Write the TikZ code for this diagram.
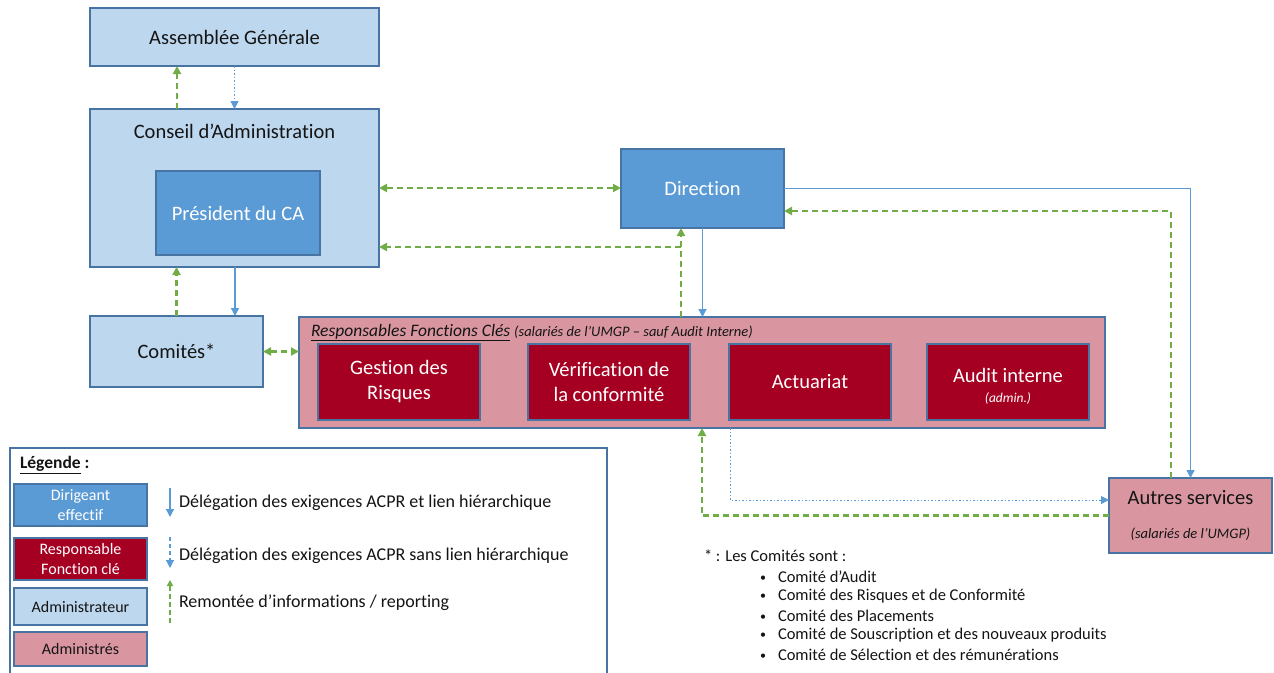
\documentclass[tikz,border=0pt]{standalone}
\usepackage{fontspec}
\setmainfont{Carlito}[Ligatures={NoCommon}]
\usetikzlibrary{arrows.meta}
\definecolor{lblue}{RGB}{189,215,238}
\definecolor{mblue}{RGB}{91,155,213}
\definecolor{bord}{RGB}{72,116,164}
\definecolor{dred}{RGB}{165,0,33}
\definecolor{pinkf}{RGB}{217,150,160}
\definecolor{grn}{RGB}{112,173,71}
\definecolor{txt}{RGB}{20,20,20}
\newcommand{\fsz}[2]{\fontsize{#1}{#2}\selectfont}
\newcommand{\bul}{\makebox[18pt][l]{\raisebox{1pt}{\fsz{12}{12}•}}}
\begin{document}
\begin{tikzpicture}[x=1pt,y=-1pt,
  every node/.style={inner sep=0pt, outer sep=0pt, text=txt},
  box/.style={draw=bord, line width=1.3pt, anchor=north west},
  admbox/.style={box, fill=lblue},
  dirbox/.style={box, fill=mblue, text=white},
  redbox/.style={box, fill=dred, text=white},
  pinkbox/.style={box, fill=pinkf},
  big/.style={font=\fsz{20.5}{25}, align=center},
  gline/.style={draw=grn, line width=2.2pt, dash pattern=on 6pt off 4pt},
  bline/.style={draw=mblue, line width=1.3pt},
  dline/.style={draw=mblue, line width=1pt, dash pattern=on 1.5pt off 2pt},
  tip/.style={-{Triangle[length=8pt,width=8pt]}},
  tips/.style={{Triangle[length=8pt,width=8pt]}-{Triangle[length=8pt,width=8pt]}},
  legtxt/.style={anchor=west, font=\fsz{18}{22}},
  foot/.style={anchor=west, font=\fsz{16.5}{20}}
]
\useasboundingbox (0,0) rectangle (1274,672);
\fill[white] (0,0) rectangle (1274,672);

% main boxes
\node[admbox, minimum width=289pt, minimum height=58pt, big] (ag) at (90,8) {Assemblée Générale};
\node[admbox, minimum width=289pt, minimum height=158pt] (ca) at (90,109) {};
\node[big] (catxt) at (234.5,131) {Conseil d’Administration};
\node[dirbox, minimum width=164pt, minimum height=84pt, big, text=white] (pres) at (156,171) {Président du CA};
\node[admbox, minimum width=173pt, minimum height=71pt, big] (com) at (90,316) {Comités*};
\node[dirbox, minimum width=163pt, minimum height=79pt, big, text=white] (dir) at (621,149) {Direction};

\node[pinkbox, minimum width=806pt, minimum height=111pt] (rfc) at (299,317) {};
\node[anchor=base west, font=\fsz{17.5}{20}\itshape] (rfctxt) at (311,336)
  {\underline{Responsables Fonctions Clés} {\fsz{14.5}{17}(salariés de l’UMGP – sauf Audit Interne)}};

\node[redbox, minimum width=162pt, minimum height=76pt, big, text=white] (gr) at (318,344) {Gestion des\\Risques};
\node[redbox, minimum width=162pt, minimum height=76pt, big, text=white] (vc) at (528,344) {Vérification de\\la conformité};
\node[redbox, minimum width=162pt, minimum height=76pt, big, text=white] (act) at (729,344) {Actuariat};
\node[redbox, minimum width=162pt, minimum height=76pt] (ai) at (927,344) {};
\node[big, text=white] (aitxt) at (1008,375) {Audit interne};
\node[font=\fsz{13.5}{16}\itshape, text=white] (aisub) at (1008,398) {(admin.)};

\node[pinkbox, minimum width=163pt, minimum height=75pt] (aut) at (1109,478) {};
\node[big] (auttxt) at (1190.5,498) {Autres services};
\node[font=\fsz{14.5}{17}\itshape] (autsub) at (1190.5,534) {(salariés de l’UMGP)};

% connectors
\draw[gline, tip] ([xshift=-57.5pt]ca.north) -- ([xshift=-57.5pt]ag.south);
\draw[dline, tip] (ag.south) -- (ca.north);
\draw[gline, tips] (ca.east) -- (ca.east -| dir.west);
\coordinate (g1) at ([xshift=-21.5pt]dir.south);
\coordinate (g2) at ([yshift=-59pt]ca.east);
\draw[gline, tip] (g1 |- rfc.north) -- (g1);
\draw[gline, tip] (g1 |- g2) -- (g2);
\draw[bline, tip] (dir.south) -- (dir.south |- rfc.north);
\draw[bline, tip] (dir.east) -| (aut.north);
\coordinate (g3) at ([xshift=-19.5pt]aut.north);
\coordinate (g4) at ([yshift=-22.5pt]dir.east);
\draw[gline, tip] (g3) |- (g4);
\draw[gline, tip] (com.north) -- (com.north |- ca.south);
\coordinate (b1) at ([xshift=0.5pt]ca.south);
\draw[bline, tip] (b1) -- (b1 |- com.north);
\draw[gline, tips] (com.east) -- (com.east -| rfc.west);
\draw[gline, tip] (aut.west) -| (rfc.south);
\coordinate (b2) at ([xshift=28pt]rfc.south);
\coordinate (b3) at ([yshift=15.5pt]aut.west);
\draw[dline, tip] (b2) |- (b3);

% legend
\draw[draw=bord, line width=1.3pt] (10,448) rectangle (607,676);
\node[anchor=west, font=\fsz{17.5}{20}\bfseries] (legt) at (20,465) {\underline{Légende} :};
\node[dirbox, minimum width=133pt, minimum height=42pt, font=\fsz{16}{20}, align=center, text=white] (l1) at (14,484) {Dirigeant\\effectif};
\node[redbox, minimum width=133pt, minimum height=42pt, font=\fsz{16}{20}, align=center, text=white] (l2) at (14,538) {Responsable\\Fonction clé};
\node[admbox, minimum width=133pt, minimum height=37pt, font=\fsz{16}{20}] (l3) at (14,588) {Administrateur};
\node[pinkbox, minimum width=133pt, minimum height=34pt, font=\fsz{16}{20}] (l4) at (14,632) {Administrés};

\coordinate (a1s) at (170,488); \coordinate (a1e) at (170,517);
\coordinate (a2s) at (170,537); \coordinate (a2e) at (170,568);
\coordinate (a3s) at (170,623); \coordinate (a3e) at (170,580);
\draw[bline, tip] (a1s) -- (a1e);
\draw[dline, line width=1.2pt, dash pattern=on 4pt off 3pt, tip] (a2s) -- (a2e);
\draw[gline, line width=1.6pt, dash pattern=on 5pt off 3pt, -{Triangle[length=6pt,width=6pt]}] (a3s) -- (a3e);
\node[legtxt] (t1) at (179,503) {Délégation des exigences ACPR et lien hiérarchique};
\node[legtxt] (t2) at (179,556) {Délégation des exigences ACPR sans lien hiérarchique};
\node[legtxt] (t3) at (179,603) {Remontée d’informations / reporting};

% footnote
\node[foot] (f0) at (704,556) {* : Les Comités sont :};
\node[foot] (f1) at (760,577) {\bul Comité d’Audit};
\node[foot] (f2) at (760,596) {\bul Comité des Risques et de Conformité};
\node[foot] (f3) at (760,616) {\bul Comité des Placements};
\node[foot] (f4) at (760,635) {\bul Comité de Souscription et des nouveaux produits};
\node[foot] (f5) at (760,655) {\bul Comité de Sélection et des rémunérations};
\end{tikzpicture}
\end{document}
